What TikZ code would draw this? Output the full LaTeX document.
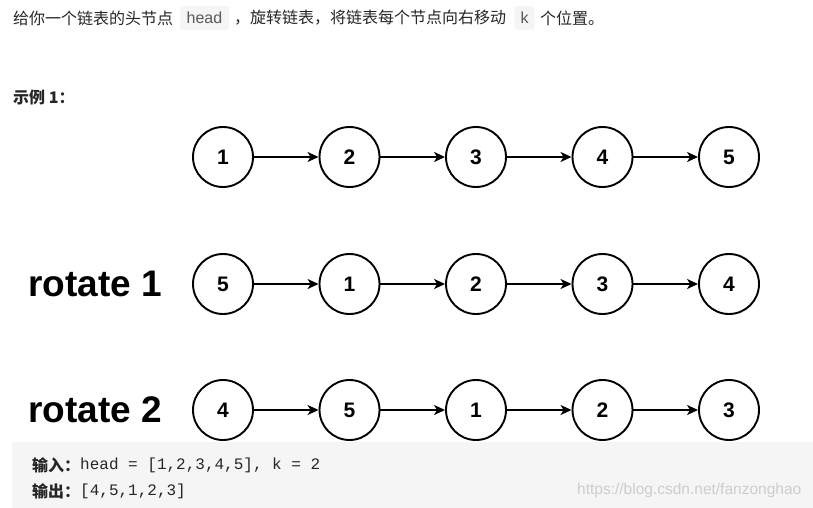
\documentclass[tikz,border=0pt]{standalone}
\usepackage{fontspec}
\setmainfont{Liberation Sans}
\setmonofont{Liberation Mono}
\newfontfamily\cjk{Noto Sans CJK SC}
\usetikzlibrary{arrows.meta}

\definecolor{txtgray}{RGB}{38,38,38}
\definecolor{codebg}{RGB}{245,245,245}
\definecolor{codefg}{RGB}{89,89,89}
\definecolor{markgray}{RGB}{205,205,205}

\tikzset{
  listnode/.style={circle, draw=black, line width=1.9pt, minimum size=60pt, inner sep=0pt,
    font=\fontsize{21}{21}\selectfont\bfseries},
  link/.style={line width=1.6pt, -{Stealth[length=11pt, width=10pt, inset=3pt]}},
  plain/.style={anchor=west, inner sep=0pt, text=txtgray, font=\fontsize{16}{16}\selectfont\cjk},
  chip/.style={fill=codebg, rounded corners=3pt, inner sep=0pt, minimum height=24pt,
    text=codefg, font=\fontsize{16}{16}\selectfont},
  rotlabel/.style={anchor=west, inner sep=0pt, font=\fontsize{37}{37}\selectfont\bfseries}
}

\begin{document}
\begin{tikzpicture}[x=1pt,y=-1pt]
\useasboundingbox (0,0) rectangle (813,508);

% task text
\node[plain] (t1) at (13,18) {给你一个链表的头节点};
\node[chip, minimum width=49pt] (head) at (204.5,18) {head};
\node[plain] (t2) at (234,18) {，旋转链表，将链表每个节点向右移动};
\node[chip, minimum width=20pt] (k) at (524.5,18) {k};
\node[plain] (t3) at (540,18) {个位置。};
\node[plain, font=\fontsize{16}{16}\selectfont\cjk\bfseries] (ex) at (13,97) {示例 1：};

% original list
\node[listnode] (a1) at (223,157) {1};
\node[listnode] (a2) at (349.5,157) {2};
\node[listnode] (a3) at (476,157) {3};
\node[listnode] (a4) at (602.5,157) {4};
\node[listnode] (a5) at (729,157) {5};
\draw[link] (a1) -- (a2);
\draw[link] (a2) -- (a3);
\draw[link] (a3) -- (a4);
\draw[link] (a4) -- (a5);

% rotate 1
\node[rotlabel] (r1) at (28,284) {rotate 1};
\node[listnode] (b1) at (223,284) {5};
\node[listnode] (b2) at (349.5,284) {1};
\node[listnode] (b3) at (476,284) {2};
\node[listnode] (b4) at (602.5,284) {3};
\node[listnode] (b5) at (729,284) {4};
\draw[link] (b1) -- (b2);
\draw[link] (b2) -- (b3);
\draw[link] (b3) -- (b4);
\draw[link] (b4) -- (b5);

% rotate 2
\node[rotlabel] (r2) at (28,410) {rotate 2};
\node[listnode] (c1) at (223,410) {4};
\node[listnode] (c2) at (349.5,410) {5};
\node[listnode] (c3) at (476,410) {1};
\node[listnode] (c4) at (602.5,410) {2};
\node[listnode] (c5) at (729,410) {3};
\draw[link] (c1) -- (c2);
\draw[link] (c2) -- (c3);
\draw[link] (c3) -- (c4);
\draw[link] (c4) -- (c5);

% example block
\fill[codebg] (12,442) rectangle (813,508);
\node[plain, font=\fontsize{16}{16}\selectfont\cjk\bfseries] (in) at (32,465) {输入：};
\node[plain, font=\fontsize{16}{16}\selectfont\ttfamily] (inval) at (80,465) {head = [1,2,3,4,5], k = 2};
\node[plain, font=\fontsize{16}{16}\selectfont\cjk\bfseries] (out) at (32,491) {输出：};
\node[plain, font=\fontsize{16}{16}\selectfont\ttfamily] (outval) at (80,491) {[4,5,1,2,3]};
\node[plain, text=markgray, font=\fontsize{15.5}{15.5}\selectfont] (mark) at (577,490) {https://blog.csdn.net/fanzonghao};
\end{tikzpicture}
\end{document}
